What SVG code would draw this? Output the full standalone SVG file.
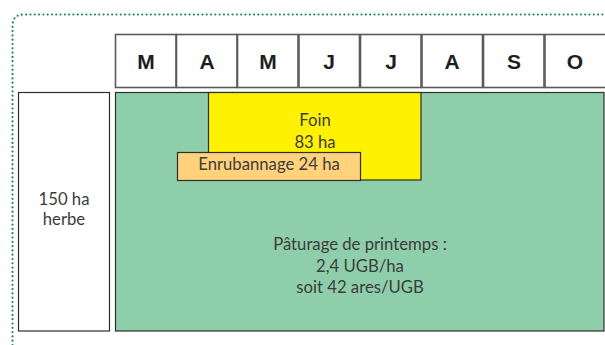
<svg xmlns="http://www.w3.org/2000/svg" width="605" height="345" viewBox="0 0 605 345">
<style>
.frame{fill:none;stroke:#1b8462;stroke-width:2.2;stroke-linecap:round;stroke-dasharray:0 4.3}
.cell{fill:#fff;stroke:#5a5a5a;stroke-width:1.6}
.mon{font-family:"Liberation Sans",Arial,sans-serif;font-weight:bold;font-size:21px;fill:#1e1e1e;text-anchor:middle}
.lbl{font-family:Lato,"Liberation Sans",sans-serif;font-size:16.7px;fill:#3c3c3c;text-anchor:middle}
.box{stroke:#2e2e2e;stroke-width:1.2}
</style>
<rect width="605" height="345" fill="#fff"/>
<path class="frame" d="M12.5,345 V26 Q12.5,14.5 24,14.5 H605"/>
<g id="months">
<rect class="cell" x="115.5" y="34.5" width="60.5" height="53"/>
<rect class="cell" x="176.5" y="34.5" width="60.5" height="53"/>
<rect class="cell" x="237.5" y="34.5" width="60.5" height="53"/>
<rect class="cell" x="299" y="34.5" width="60.5" height="53"/>
<rect class="cell" x="360.5" y="34.5" width="60.5" height="53"/>
<rect class="cell" x="422" y="34.5" width="60.5" height="53"/>
<rect class="cell" x="483.5" y="34.5" width="60.5" height="53"/>
<rect class="cell" x="545" y="34.5" width="61" height="53"/>
<text class="mon" x="146" y="69">M</text>
<text class="mon" x="207" y="69">A</text>
<text class="mon" x="268" y="69">M</text>
<text class="mon" x="329" y="69">J</text>
<text class="mon" x="391" y="69">J</text>
<text class="mon" x="452" y="69">A</text>
<text class="mon" x="514" y="69">S</text>
<text class="mon" x="575" y="69">O</text>
</g>
<g id="herbe">
<rect class="box" x="18.5" y="92.5" width="91" height="238.5" fill="#fff"/>
<text class="lbl" x="64" y="205">150 ha</text>
<text class="lbl" x="64" y="225">herbe</text>
</g>
<g id="paturage">
<rect class="box" x="115.5" y="92.5" width="488.5" height="238.5" fill="#8fceab"/>
<text class="lbl" x="360" y="250">Pâturage de printemps :</text>
<text class="lbl" x="360" y="272">2,4 UGB/ha</text>
<text class="lbl" x="360" y="293">soit 42 ares/UGB</text>
</g>
<g id="foin">
<rect class="box" x="208.5" y="92.5" width="212.5" height="87.5" fill="#fff200"/>
<text class="lbl" x="315" y="126">Foin</text>
<text class="lbl" x="315" y="148">83 ha</text>
</g>
<g id="enrubannage">
<rect class="box" x="177.5" y="152.5" width="183" height="28" fill="#ffd27b"/>
<text class="lbl" x="269" y="170">Enrubannage 24 ha</text>
</g>
<g id="connectors"/>
</svg>
